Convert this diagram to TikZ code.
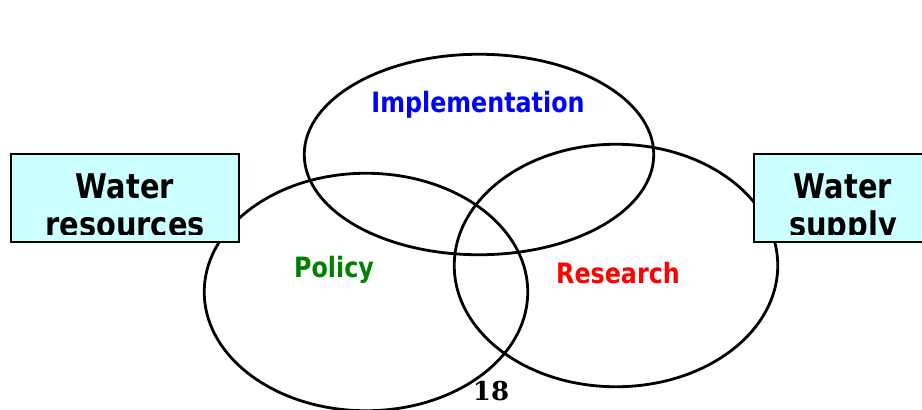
\documentclass[tikz,border=0pt]{standalone}
\usepackage{fontspec}
\usepackage{tikz}
\usetikzlibrary{positioning, shapes.geometric}
\newfontfamily\labelfont[FakeStretch=0.85]{DejaVu Sans}
\newfontfamily\pagefont{DejaVu Serif}
\definecolor{boxcyan}{RGB}{204,255,255}
\definecolor{implblue}{RGB}{0,0,255}
\definecolor{polgreen}{RGB}{0,128,0}
\definecolor{resred}{RGB}{255,0,0}

\begin{document}
\begin{tikzpicture}[x=1pt, y=-1pt,
        field/.style={ellipse, draw, line width=2.8pt, inner sep=0pt},
        waterbox/.style={rectangle, draw, line width=2pt, fill=boxcyan,
            minimum height=88pt, inner sep=0pt},
        areatext/.style={font=\labelfont\bfseries\fontsize{28}{30}\selectfont, anchor=base},
        boxtext/.style={font=\labelfont\bfseries\fontsize{34}{40}\selectfont, anchor=base}]
        \useasboundingbox (0,0) rectangle (922,410);
        \clip (0,0) rectangle (922,410);
        % the three areas
        \node[field, minimum width=349.5pt, minimum height=200.5pt] (impl) at (479,154.5) {};
        \node[field, minimum width=323.5pt, minimum height=237.5pt] (pol)  at (366,292) {};
        \node[field, minimum width=323.5pt, minimum height=242.5pt] (res)  at (616,265.5) {};
        \node[areatext, text=implblue] (impltext) at (478,112) {Implementation};
        \node[areatext, text=polgreen] (poltext)  at (334,277) {Policy};
        \node[areatext, text=resred]   (restext)  at (618,283) {Research};
        % the two water boxes, text cut off at the frame
        \node[waterbox, minimum width=228pt] (wres) at (125,198) {};
        \node[waterbox, minimum width=178pt] (wsup) at (843,198) {};
        \coordinate (cutline) at (0,234);
        \begin{scope}
            \clip (wres.north west) rectangle (wres.east |- cutline);
            \node[boxtext] (wrestop) at (125,198) {Water};
            \node[boxtext] (wresbot) at (125,236.5) {resources};
        \end{scope}
        \begin{scope}
            \clip (wsup.north west) rectangle (wsup.east |- cutline);
            \node[boxtext] (wsuptop) at (843,198) {Water};
            \node[boxtext] (wsupbot) at (843,236.5) {supply};
        \end{scope}
        % page number
        \node[font=\pagefont\bfseries\fontsize{26}{30}\selectfont, anchor=base] (page) at (491,400) {18};
    \end{tikzpicture}
\end{document}
